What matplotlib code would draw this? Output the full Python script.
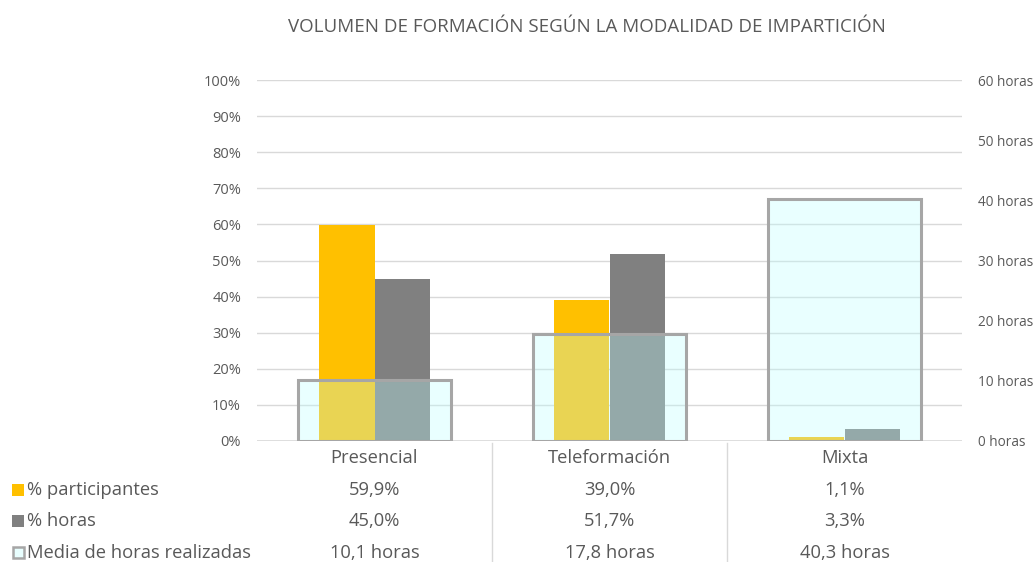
import matplotlib.pyplot as plt
import matplotlib.transforms as mtransforms
from matplotlib.patches import Rectangle
from matplotlib.lines import Line2D

plt.rcParams['font.family'] = ['Open Sans', 'DejaVu Sans']

# ----- data -----
modalidades = ["Presencial", "Teleformación", "Mixta"]
pct_participantes = [59.9, 39.0, 1.1]
pct_horas = [45.0, 51.7, 3.3]
media_horas = [10.1, 17.8, 40.3]

lbl_participantes = ["59,9%", "39,0%", "1,1%"]
lbl_horas = ["45,0%", "51,7%", "3,3%"]
lbl_media = ["10,1 horas", "17,8 horas", "40,3 horas"]

txt = "#595959"
naranja = "#FFC000"
gris = "#808080"

fig = plt.figure(figsize=(10.36, 5.62), dpi=100)
ax = fig.add_axes([257 / 1036, 121 / 562, 705 / 1036, 361 / 562])
ax2 = ax.twinx()

x = list(range(len(modalidades)))
bw = 0.238
ax.bar([i - bw / 2 for i in x], pct_participantes, width=bw, color=naranja, zorder=2)
ax.bar([i + bw / 2 for i in x], pct_horas, width=bw, color=gris, zorder=2)

# media de horas (eje derecho), barra ancha semitransparente
ax2.bar(x, media_horas, width=0.655, color=(0.74, 1.0, 1.0, 0.33),
        edgecolor="#A6A6A6", linewidth=2.2, zorder=3)

ax.set_xlim(-0.5, 2.5)
ax.set_ylim(0, 100)
ax2.set_ylim(0, 60)
ax.set_yticks(range(0, 101, 10))
ax.set_yticklabels([f"{v}%" for v in range(0, 101, 10)])
ax2.set_yticks(range(0, 61, 10))
ax2.set_yticklabels([f"{v} horas" for v in range(0, 61, 10)])
ax.set_xticks([])

ax.grid(axis="y", color="#D9D9D9", linewidth=1, zorder=0)
ax.set_axisbelow(True)
for a in (ax, ax2):
    for s in a.spines.values():
        s.set_visible(False)
ax.tick_params(axis="y", length=0, labelsize=10.5, labelcolor=txt, pad=11.5)
ax2.tick_params(axis="y", length=0, labelsize=9.8, labelcolor=txt, pad=11.5)
ax.axhline(0, color="#D9D9D9", linewidth=1.2, zorder=1)
ax2.patch.set_visible(False)

fig.text(587 / 1036, 1 - 27 / 562, "VOLUMEN DE FORMACIÓN SEGÚN LA MODALIDAD DE IMPARTICIÓN",
         ha="center", va="center", fontsize=13.5, color=txt)

# ----- tabla de datos -----
tr = mtransforms.blended_transform_factory(ax.transData, fig.transFigure)
filas_y = [1 - 458 / 562, 1 - 490 / 562, 1 - 521 / 562, 1 - 553 / 562]
for i in x:
    ax.text(i, filas_y[0], modalidades[i], transform=tr, ha="center", va="center",
            fontsize=13.2, color=txt)
    ax.text(i, filas_y[1], lbl_participantes[i], transform=tr, ha="center", va="center",
            fontsize=13.2, color=txt)
    ax.text(i, filas_y[2], lbl_horas[i], transform=tr, ha="center", va="center",
            fontsize=13.2, color=txt)
    ax.text(i, filas_y[3], lbl_media[i], transform=tr, ha="center", va="center",
            fontsize=13.2, color=txt)

for b in (0.5, 1.5):
    ax.add_line(Line2D([b, b], [0, 1 - 443 / 562], transform=tr, color="#D9D9D9",
                       linewidth=1, clip_on=False))

# leyenda de la tabla
series = ["% participantes", "% horas", "Media de horas realizadas"]
for k, nombre in enumerate(series):
    y = filas_y[k + 1]
    if k < 2:
        fig.patches.append(Rectangle((12 / 1036, y - 6 / 562), 12 / 1036, 12 / 562,
                                     transform=fig.transFigure,
                                     facecolor=[naranja, gris][k], edgecolor="none"))
    else:
        fig.patches.append(Rectangle((13 / 1036, y - 5 / 562), 11 / 1036, 11 / 562,
                                     transform=fig.transFigure,
                                     facecolor="#E8FEFE", edgecolor="#A6A6A6", linewidth=1.8))
    fig.text(27 / 1036, y, nombre, ha="left", va="center", fontsize=13.2, color=txt)

fig.savefig("out.png", dpi=100)
